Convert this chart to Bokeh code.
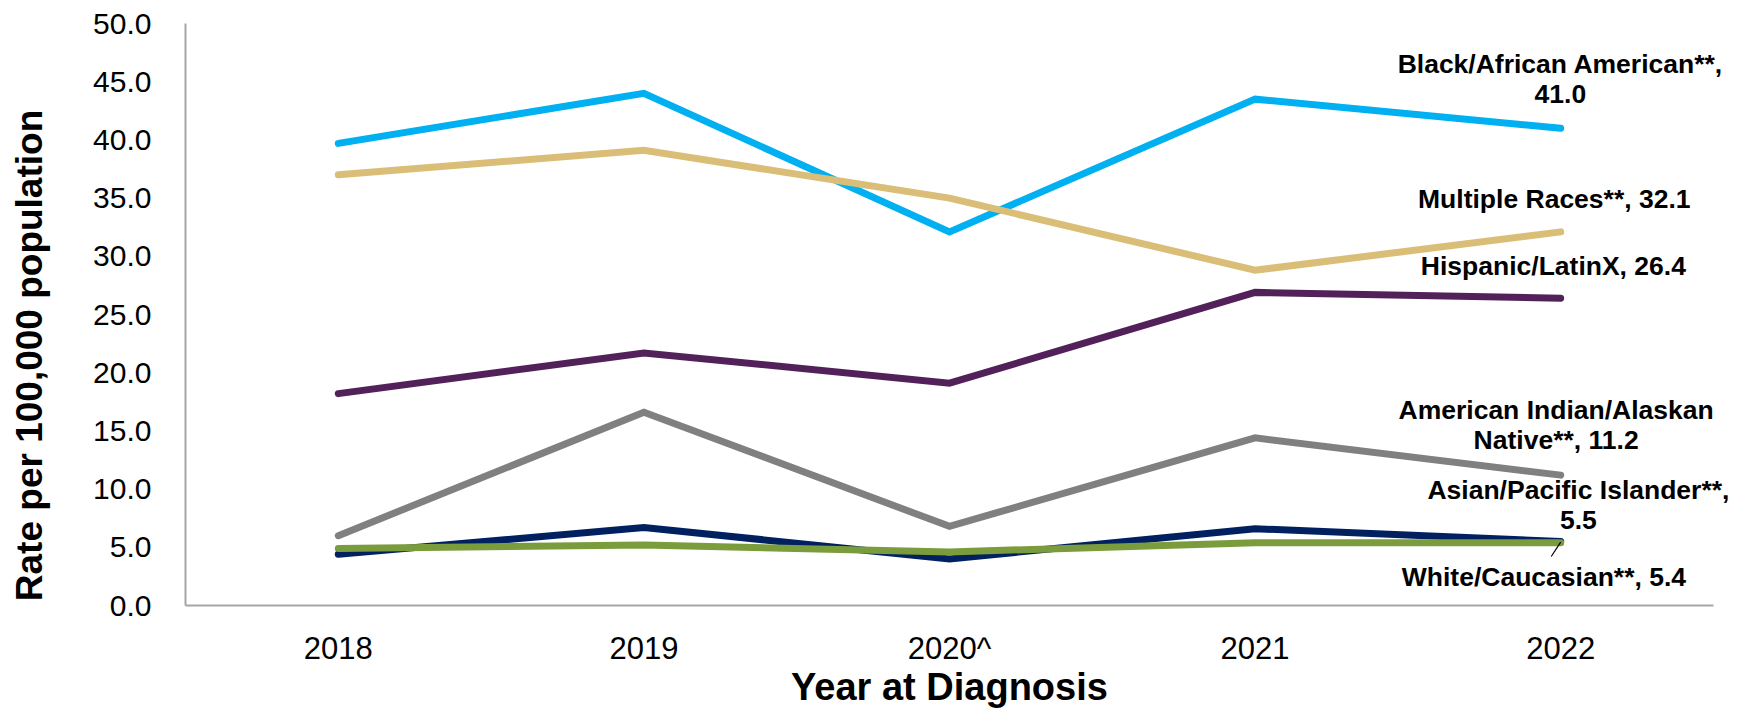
import math
from bokeh.plotting import figure
from bokeh.models import Range1d, FixedTicker, Label
from bokeh.embed import file_html
from bokeh.resources import INLINE

years = ["2018", "2019", "2020^", "2021", "2022"]
y_ticks = [0, 5, 10, 15, 20, 25, 30, 35, 40, 45, 50]

black = [39.7, 44.0, 32.1, 43.5, 41.0]
multiple = [37.0, 39.1, 35.0, 28.8, 32.1]
hispanic = [18.2, 21.7, 19.1, 26.9, 26.4]
aian = [6.0, 16.6, 6.8, 14.4, 11.2]
asian = [4.4, 6.7, 4.0, 6.6, 5.5]
white = [4.9, 5.2, 4.6, 5.4, 5.4]

series = [
    ("Black/African American**,\n41.0", black, "#00B0F0"),
    ("Multiple Races**, 32.1", multiple, "#DABE78"),
    ("Hispanic/LatinX, 26.4", hispanic, "#52215A"),
    ("American Indian/Alaskan\nNative**, 11.2", aian, "#808080"),
    ("Asian/Pacific Islander**,\n5.5", asian, "#002060"),
    ("White/Caucasian**, 5.4", white, "#7A9C3C"),
]

# label anchor positions (data units)
label_pos = [
    (3.999, 45.23),
    (3.979, 34.9),
    (3.976, 29.2),
    (3.985, 15.5),
    (4.058, 8.6),
    (3.945, 2.43),
]

W, H = 1754, 708
LEFT, TOP = 185, 23
PX_X = 305.6    # pixels per category
PX_Y = 11.64    # pixels per unit
x_start = -0.5 - LEFT / PX_X
x_end = -0.5 + (W - LEFT) / PX_X
y_start = 50 - (H - TOP) / PX_Y
y_end = 50 + TOP / PX_Y

p = figure(width=W, height=H, output_backend="svg", toolbar_location=None,
           x_range=Range1d(x_start, x_end), y_range=Range1d(y_start, y_end),
           min_border_left=0, min_border_right=0, min_border_top=0, min_border_bottom=0)
p.outline_line_color = None
p.grid.visible = False
p.background_fill_color = "white"
p.border_fill_color = "white"

xs = list(range(len(years)))
for name, vals, color in series:
    p.line(xs, vals, line_color=color, line_width=7, line_cap="round", line_join="miter")

# leader line for White/Caucasian label
p.segment(x0=[4.0], y0=[5.44], x1=[3.969], y1=[4.21], line_color="black", line_width=1.2)

for (name, vals, color), (lx, ly) in zip(series, label_pos):
    p.add_layout(Label(x=lx, y=ly, text=name, text_align="center", text_baseline="middle",
                       text_font="Liberation Sans", text_font_style="bold",
                       text_font_size="26.5px", text_color="black", text_line_height=1.0))

# axes
p.xaxis.ticker = FixedTicker(ticks=xs)
p.xaxis.major_label_overrides = {i: y for i, y in enumerate(years)}
p.xaxis.fixed_location = 0
p.xaxis.bounds = (-0.5, 4.5)
p.yaxis.ticker = FixedTicker(ticks=y_ticks)
p.yaxis.major_label_overrides = {t: f"{t:.1f}" for t in y_ticks}
p.yaxis.fixed_location = -0.5
p.yaxis.bounds = (0, 50)
for ax in (p.xaxis, p.yaxis):
    ax.axis_line_color = "#A6A6A6"
    ax.axis_line_width = 2
    ax.major_tick_line_color = None
    ax.minor_tick_line_color = None
    ax.major_label_text_color = "black"
p.xaxis.major_label_text_font = "Liberation Sans"
p.xaxis.major_label_text_font_size = "31px"
p.xaxis.major_label_standoff = 19
p.yaxis.major_label_text_font = "Liberation Sans"
p.yaxis.major_label_text_font_size = "30px"
p.yaxis.major_label_standoff = 28

p.add_layout(Label(x=-1.0105, y=21.48, text="Rate per 100,000 population", text_align="center",
                   text_baseline="middle", angle=math.pi / 2, text_font="Liberation Sans",
                   text_font_style="bold", text_font_size="37px", text_color="black"))
p.add_layout(Label(x=2.0, y=-6.96, text="Year at Diagnosis", text_align="center",
                   text_baseline="middle", text_font="Liberation Sans",
                   text_font_style="bold", text_font_size="38px", text_color="black"))

open("out.html", "w").write(file_html(p, INLINE))
